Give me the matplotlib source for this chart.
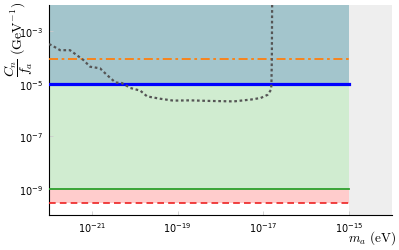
import numpy as np
import matplotlib
matplotlib.use("Agg")
import matplotlib.pyplot as plt

# Data (log10 values)
curve_logm = [-22.0, -21.94, -21.74, -21.51, -21.35, -21.20, -21.04, -20.81, -20.65, -20.45,
              -20.30, -20.10, -19.87, -19.71, -19.40, -19.10, -18.70, -18.31, -17.69, -17.29,
              -17.06, -16.90, -16.82, -16.81, -16.80, -16.79]
curve_logc = [-3.49, -3.53, -3.72, -3.72, -3.91, -4.09, -4.35, -4.41, -4.66, -4.95,
              -4.97, -5.16, -5.26, -5.48, -5.57, -5.64, -5.63, -5.65, -5.67, -5.60,
              -5.54, -5.42, -5.23, -5.04, -4.09, -1.0]
blue_level = 1e-5
orange_level = 8.5e-5
green_level = 1e-9
red_level = 3e-10
m_min, m_max, m_cut = 1e-22, 1e-14, 1e-15
c_min, c_max = 1e-10, 1e-2
xticks = [1e-21, 1e-19, 1e-17, 1e-15]
yticks = [1e-9, 1e-7, 1e-5, 1e-3]

fig = plt.figure(figsize=(3.99, 2.51), dpi=100)
ax = fig.add_axes([0.1228, 0.139, 0.8592, 0.837])
ax.set_xscale('log'); ax.set_yscale('log')
ax.set_xlim(m_min, m_max); ax.set_ylim(c_min, c_max)

ax.fill_between([m_min, m_cut], blue_level, c_max, color='#a3c5cc', lw=0, zorder=1)
ax.fill_between([m_min, m_cut], green_level, blue_level, color='#d0ecd0', lw=0, zorder=1)
ax.fill_between([m_min, m_cut], red_level, green_level, color='#ffcccc', lw=0, zorder=1)
ax.fill_between([m_cut, m_max], c_min, c_max, color='#eeeeee', lw=0, zorder=1)

ax.plot([m_min, m_cut], [blue_level]*2, color='#0000ff', lw=2.3, zorder=3)
ax.plot([m_min, m_cut], [orange_level]*2, color='#ff7f0e', lw=1.3, ls=(0, (5, 2, 1.5, 2)), zorder=3)
ax.plot([m_min, m_cut], [green_level]*2, color='#2ca02c', lw=1.3, zorder=3)
ax.plot([m_min, m_cut], [red_level]*2, color='#ee2222', lw=1.2, ls=(0, (4, 2.5)), zorder=3)

ax.plot(10**np.array(curve_logm), 10**np.array(curve_logc), color='#555555', lw=1.6,
        ls=(0, (1.2, 1.2)), zorder=4)

for s in ['top', 'right']:
    ax.spines[s].set_visible(False)
ax.spines['left'].set_color('black'); ax.spines['bottom'].set_color('black')
ax.set_xticks(xticks); ax.set_yticks(yticks)
ax.minorticks_off()
ax.tick_params(axis='both', labelsize=7, length=3, color='#cccccc', width=0.6, direction='in', pad=4)

fig.text(0.006, 0.992, r'$\dfrac{C_n}{f_a}\ (\mathrm{GeV}^{-1})$', rotation=90, fontsize=10,
         math_fontfamily='cm', ha='left', va='top')
fig.text(0.993, 0.052, r'$m_a\ (\mathrm{eV})$', fontsize=9.5, math_fontfamily='cm',
         ha='right', va='center')

fig.savefig('out.png', dpi=100)
